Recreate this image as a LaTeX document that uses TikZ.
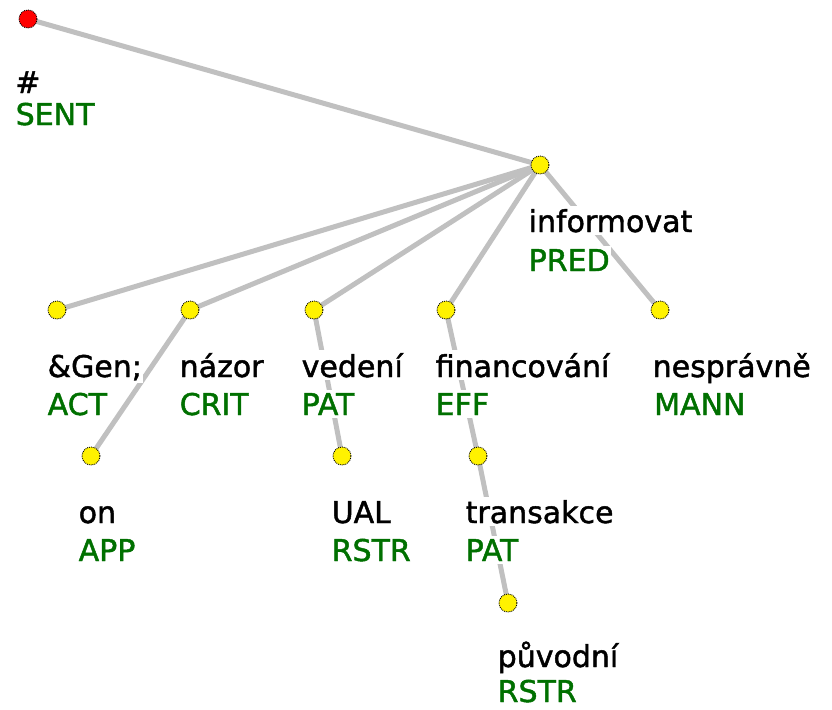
\documentclass[tikz,border=0pt]{standalone}
\usepackage{fontspec}
\setmainfont{DejaVu Sans}
\newfontfamily\labelfont{DejaVu Sans}[FakeBold=1.5]
\pgfdeclarelayer{bg}
\pgfsetlayers{bg,main}
\definecolor{edgegray}{RGB}{192,192,192}
\definecolor{funcgreen}{RGB}{0,112,0}
\begin{document}
\begin{tikzpicture}[x=1pt,y=-1pt,
  dot/.style={circle,inner sep=0pt,minimum size=18pt,fill=yellow,draw=black,line width=0.9pt,densely dotted},
  rootdot/.style={dot,fill=red},
  lemma/.style={anchor=base west,inner xsep=1pt,inner ysep=3pt,fill=white,
                font=\labelfont\fontsize{30}{36}\selectfont,text=black},
  func/.style={lemma,text=funcgreen},
  edge/.style={draw=edgegray,line width=5pt}]
\useasboundingbox (0,0) rectangle (832,709);

% tree nodes
\node[rootdot] (root)   at (28,19)  {};
\node[dot]     (inf)    at (540,165) {};
\node[dot]     (gen)    at (57,310)  {};
\node[dot]     (nazor)  at (190,310) {};
\node[dot]     (vedeni) at (314,310) {};
\node[dot]     (fin)    at (446,310) {};
\node[dot]     (nespr)  at (660,310) {};
\node[dot]     (on)     at (91,456)  {};
\node[dot]     (ual)    at (342,456) {};
\node[dot]     (trans)  at (478,456) {};
\node[dot]     (puv)    at (508,603) {};

% labels: lemma above, functor below
\node[lemma] (root-l)   at (14,93)    {\#};
\node[func]  (root-f)   at (14.5,125) {SENT};
\node[lemma] (inf-l)    at (527.5,232) {informovat};
\node[func]  (inf-f)    at (527.5,271) {PRED};
\node[lemma] (gen-l)    at (46.5,377)  {\&Gen;};
\node[func]  (gen-f)    at (46.5,415)  {ACT};
\node[lemma] (nazor-l)  at (178.5,377) {názor};
\node[func]  (nazor-f)  at (178.5,415) {CRIT};
\node[lemma] (vedeni-l) at (300.5,377) {vedení};
\node[func]  (vedeni-f) at (300.5,415) {PAT};
\node[lemma] (fin-l)    at (434.5,377) {financování};
\node[func]  (fin-f)    at (434.5,415) {EFF};
\node[lemma] (nespr-l)  at (651.5,377) {nesprávně};
\node[func]  (nespr-f)  at (653,415)   {MANN};
\node[lemma] (on-l)     at (77.5,523)  {on};
\node[func]  (on-f)     at (77.5,561)  {APP};
\node[lemma] (ual-l)    at (330.5,523) {UAL};
\node[func]  (ual-f)    at (330.5,561) {RSTR};
\node[lemma] (trans-l)  at (464.5,523) {transakce};
\node[func]  (trans-f)  at (464.5,561) {PAT};
\node[lemma] (puv-l)    at (496.5,667) {původní};
\node[func]  (puv-f)    at (496.5,702) {RSTR};

% edges behind everything
\begin{pgfonlayer}{bg}
\foreach \a/\b in {root/inf, inf/gen, inf/nazor, inf/vedeni, inf/fin, inf/nespr,
                   nazor/on, vedeni/ual, fin/trans, trans/puv}
  \draw[edge] (\a.center) -- (\b.center);
\end{pgfonlayer}
\end{tikzpicture}
\end{document}
